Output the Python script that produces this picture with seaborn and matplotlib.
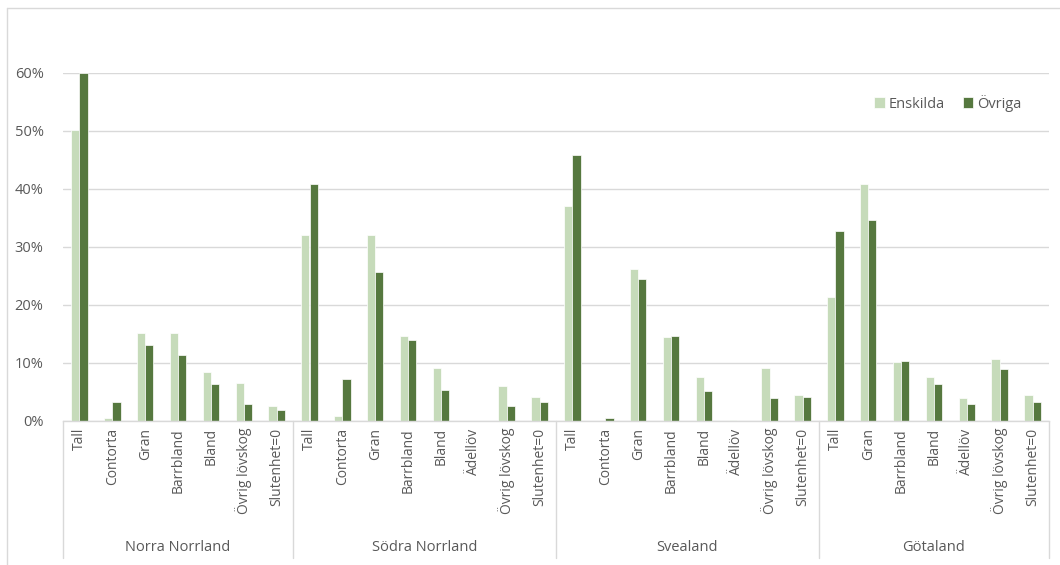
import matplotlib
matplotlib.use("Agg")
import matplotlib.pyplot as plt
from matplotlib.lines import Line2D
from matplotlib.ticker import PercentFormatter
import seaborn as sns
import pandas as pd

# data (share of area, %)
regions = ["Norra Norrland", "Södra Norrland", "Svealand", "Götaland"]
types_nn = ["Tall", "Contorta", "Gran", "Barrbland", "Bland", "Övrig lövskog", "Slutenhet=0"]
types_sn = ["Tall", "Contorta", "Gran", "Barrbland", "Bland", "Ädellöv", "Övrig lövskog", "Slutenhet=0"]
types_sv = ["Tall", "Contorta", "Gran", "Barrbland", "Bland", "Ädellöv", "Övrig lövskog", "Slutenhet=0"]
types_go = ["Tall", "Gran", "Barrbland", "Bland", "Ädellöv", "Övrig lövskog", "Slutenhet=0"]

enskilda_nn = [50.1, 0.6, 15.1, 15.2, 8.4, 6.6, 2.6]
ovriga_nn = [60.0, 3.3, 13.1, 11.4, 6.3, 3.0, 1.9]
enskilda_sn = [32.0, 0.9, 32.0, 14.6, 9.2, 0.0, 6.1, 4.2]
ovriga_sn = [40.8, 7.3, 25.7, 13.9, 5.3, 0.0, 2.6, 3.3]
enskilda_sv = [37.1, 0.0, 26.1, 14.4, 7.6, 0.2, 9.2, 4.4]
ovriga_sv = [45.9, 0.6, 24.4, 14.6, 5.1, 0.0, 3.9, 4.2]
enskilda_go = [21.3, 40.9, 10.2, 7.5, 3.9, 10.7, 4.5]
ovriga_go = [32.8, 34.6, 10.3, 6.4, 3.0, 8.9, 3.2]

series = ["Enskilda", "Övriga"]
colors = ["#C5E0B4", "#548235"]

types_all = [types_nn, types_sn, types_sv, types_go]
ensk_all = [enskilda_nn, enskilda_sn, enskilda_sv, enskilda_go]
ovr_all = [ovriga_nn, ovriga_sn, ovriga_sv, ovriga_go]

rows = []
for reg, typs, e_vals, o_vals in zip(regions, types_all, ensk_all, ovr_all):
    for t, e, o in zip(typs, e_vals, o_vals):
        key = reg + "|" + t
        rows.append({"kat": key, "ägare": "Enskilda", "andel": e / 100})
        rows.append({"kat": key, "ägare": "Övriga", "andel": o / 100})
df = pd.DataFrame(rows)
order = list(dict.fromkeys(df["kat"]))

sns.set_theme(style="white")
plt.rcParams["font.family"] = ["Open Sans", "DejaVu Sans"]
txt = "#595959"
grid = "#D9D9D9"

fig = plt.figure(figsize=(10.6, 5.65), dpi=100)
ax = fig.add_axes([63 / 1060, (565 - 421) / 565, (1049 - 63) / 1060, (421 - 72.7) / 565])

sns.barplot(data=df, x="kat", y="andel", hue="ägare", order=order,
            hue_order=series, palette=colors, width=0.5,
            edgecolor="white", linewidth=0.5, ax=ax)

ax.set_ylim(0, 0.6)
ax.set_xlim(-0.5, len(order) - 0.5)
ax.set_yticks([0, 0.1, 0.2, 0.3, 0.4, 0.5, 0.6])
ax.yaxis.set_major_formatter(PercentFormatter(1.0, decimals=0))
ax.yaxis.grid(True, color=grid, linewidth=1)
ax.set_axisbelow(True)
for s in ["top", "right", "left"]:
    ax.spines[s].set_visible(False)
ax.spines["bottom"].set_color(grid)
ax.spines["bottom"].set_linewidth(1)

ax.set_xticks(range(len(order)))
ax.set_xticklabels([k.split("|")[1] for k in order], rotation=90,
                   fontsize=10, color=txt, va="top")
ax.tick_params(axis="x", length=0, pad=5)
ax.tick_params(axis="y", length=0, pad=14, labelsize=10.5, labelcolor=txt)
ax.set_xlabel("")
ax.set_ylabel("")

# second level of the category axis
trans = ax.get_xaxis_transform()
start = -0.5
bounds = [start]
for reg, typs in zip(regions, types_all):
    end = start + len(typs)
    ax.text((start + end) / 2, -0.364, reg, transform=trans, ha="center",
            va="center", fontsize=10.5, color=txt)
    bounds.append(end)
    start = end
for b in bounds:
    ax.add_line(Line2D([b, b], [0, -0.393], transform=trans, color=grid,
                       linewidth=1, clip_on=False))

leg = ax.legend(loc="center", bbox_to_anchor=((948 - 63) / 986, (421 - 103) / 348.3),
                ncol=2, frameon=False, fontsize=10.5, handlelength=0.7,
                handleheight=0.7, handletextpad=0.3, columnspacing=1.2)
for t in leg.get_texts():
    t.set_color(txt)

# chart area border
fig.add_artist(Line2D([7 / 1060, 1], [1 - 8 / 565, 1 - 8 / 565], color=grid, linewidth=1))
fig.add_artist(Line2D([7 / 1060, 7 / 1060], [0, 1 - 8 / 565], color=grid, linewidth=1))

fig.savefig("out.png", dpi=100, facecolor="white")
